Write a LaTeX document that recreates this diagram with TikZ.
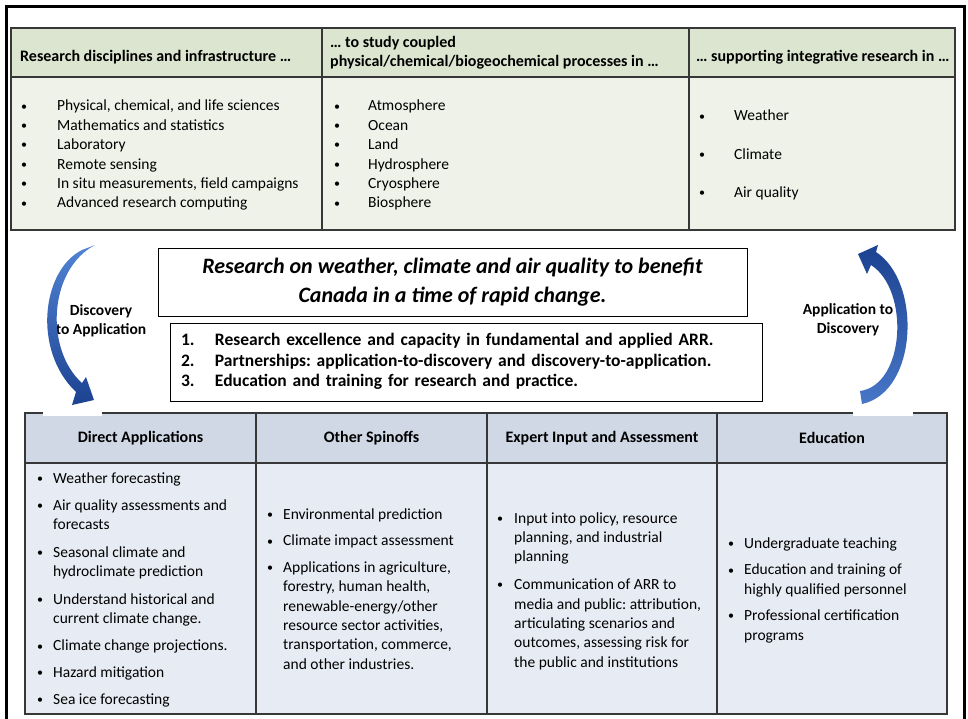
\documentclass[tikz,border=0pt]{standalone}
\usepackage{fontspec}
\setmainfont{Carlito}
\usepackage{array}
\usetikzlibrary{positioning}
\frenchspacing

\definecolor{greenhead}{RGB}{220,229,208}
\definecolor{greenbody}{RGB}{238,242,232}
\definecolor{bluehead}{RGB}{208,216,230}
\definecolor{bluebody}{RGB}{231,235,243}
\definecolor{gridline}{RGB}{55,55,55}
\definecolor{arrowdark}{RGB}{28,66,145}
\definecolor{arrowlight}{RGB}{82,132,212}

% small bullet in a box of width \bulwd
\newlength\bulwd
\newcommand{\bul}{\makebox[\bulwd][l]{\raisebox{0.8pt}{\fontsize{12}{12}\selectfont\textbullet}}}

\tikzstyle{cell} = [rectangle, 
draw=gridline, 
line width=1.6pt, 
outer sep=0pt, inner sep=0pt, 
anchor=north west]
\tikzstyle{tophead} = [cell, fill=greenhead, minimum height=49pt]
\tikzstyle{topbody} = [cell, fill=greenbody, minimum height=153pt]
\tikzstyle{bothead} = [cell, fill=bluehead, minimum height=50pt,
font=\bfseries\fontsize{16}{19}\selectfont]
\tikzstyle{botbody} = [cell, fill=bluebody, minimum height=251pt]
\tikzstyle{headtext} = [inner sep=0pt, anchor=west, align=left,
font=\bfseries\fontsize{16}{19}\selectfont]
\tikzstyle{bullets} = [inner sep=0pt, anchor=base west,
font=\fontsize{15.5}{19.4}\selectfont]
\tikzstyle{goalbox} = [rectangle, draw=black, line width=0.8pt,
minimum width=589pt, minimum height=68pt, 
align=center,
font=\bfseries\itshape\fontsize{22}{29}\selectfont]
\tikzstyle{aimbox} = [rectangle, draw=black, line width=0.8pt,
text width=570pt, inner xsep=11pt, minimum height=78pt,
align=left,
font=\bfseries\fontsize{17.5}{20.5}\selectfont]
\tikzstyle{arrowlabel} = [align=center, font=\bfseries\fontsize{15.5}{18.5}\selectfont]
\tikzstyle{bluearrow} = [draw=none, top color=arrowlight, bottom color=arrowdark]

\begin{document}
\begin{tikzpicture}[x=1pt, y=-1pt]
\useasboundingbox (0,0) rectangle (968,719);

% outer frame, open at the bottom
\draw[line width=3pt] (6.5,725) |- (964,6.5) -- (964,725);

% top table
\node (hA) [tophead, minimum width=311pt] at (11,28) {};
\node (hB) [tophead, minimum width=367pt, right=0pt of hA] {};
\node (hC) [tophead, minimum width=266pt, right=0pt of hB] {};
\node (bA) [topbody, minimum width=311pt, below=0pt of hA] {};
\node (bB) [topbody, minimum width=367pt, below=0pt of hB] {};
\node (bC) [topbody, minimum width=266pt, below=0pt of hC] {};

\node (hAt) [headtext] at (20,57) {Research disciplines and infrastructure …};
\node (hBt) [headtext] at (330,53) {… to study coupled\\physical/chemical/biogeochemical processes in …};
\node (hCt) [headtext] at (696,57) {… supporting integrative research in …};

\node (sciences) [bullets] at (21,111) {\setlength\bulwd{36pt}\begin{tabular}[t]{@{}l@{}l@{}}
\bul & Physical, chemical, and life sciences\\
\bul & Mathematics and statistics\\
\bul & Laboratory\\
\bul & Remote sensing\\
\bul & In situ measurements, field campaigns\\
\bul & Advanced research computing
\end{tabular}};
\node (spheres) [bullets] at (334,111) {\setlength\bulwd{34pt}\begin{tabular}[t]{@{}l@{}l@{}}
\bul & Atmosphere\\
\bul & Ocean\\
\bul & Land\\
\bul & Hydrosphere\\
\bul & Cryosphere\\
\bul & Biosphere
\end{tabular}};
\node (themes) [bullets] at (699,121) {\setlength\bulwd{35pt}\begin{tabular}[t]{@{}l@{}l@{}}
\bul & Weather\\[19pt]
\bul & Climate\\[19pt]
\bul & Air quality
\end{tabular}};

% middle: goal, aims and the two loops
\node (goal) [goalbox] at (452.5,282) {Research on weather, climate and air quality to benefit\\Canada in a time of rapid change.};
\node (aims) [aimbox] at (466,362) {\begin{tabular}{@{}p{34pt}@{}l@{}}
1. & Research excellence and capacity in fundamental and applied ARR.\\
2. & Partnerships: application-to-discovery and discovery-to-application.\\
3. & Education and training for research and practice.
\end{tabular}};
\node (d2a) [arrowlabel] at (101,321) {Discovery\\to Application};
\node (a2d) [arrowlabel] at (848,320) {Application to\\Discovery};

% bottom table
\node (hD) [bothead, minimum width=231pt] at (25,413) {Direct Applications};
\node (hE) [bothead, minimum width=231pt, right=0pt of hD] {Other Spinoffs};
\node (hF) [bothead, minimum width=230pt, right=0pt of hE] {Expert Input and Assessment};
\node (hG) [bothead, minimum width=230pt, right=0pt of hF] {Education};
\node (bD) [botbody, minimum width=231pt, below=0pt of hD] {};
\node (bE) [botbody, minimum width=231pt, below=0pt of hE] {};
\node (bF) [botbody, minimum width=230pt, below=0pt of hF] {};
\node (bG) [botbody, minimum width=230pt, below=0pt of hG] {};

\node (direct) [bullets] at (37,483) {\setlength\bulwd{16pt}\begin{tabular}[t]{@{}l@{}l@{}}
\bul & Weather forecasting\\[8pt]
\bul & Air quality assessments and\\ & forecasts\\[8pt]
\bul & Seasonal climate and\\ & hydroclimate prediction\\[8pt]
\bul & Understand historical and\\ & current climate change.\\[8pt]
\bul & Climate change projections.\\[7pt]
\bul & Hazard mitigation\\[8pt]
\bul & Sea ice forecasting
\end{tabular}};
\node (spinoffs) [bullets] at (267,519) {\setlength\bulwd{16pt}\begin{tabular}[t]{@{}l@{}l@{}}
\bul & Environmental prediction\\[7.5pt]
\bul & Climate impact assessment\\[7pt]
\bul & Applications in agriculture,\\ & forestry, human health,\\ & renewable-energy/other\\ & resource sector activities,\\ & transportation, commerce,\\ & and other industries.
\end{tabular}};
\node (expert) [bullets] at (497,523) {\setlength\bulwd{17pt}\begin{tabular}[t]{@{}l@{}l@{}}
\bul & Input into policy, resource\\ & planning, and industrial\\ & planning\\[8.5pt]
\bul & Communication of ARR to\\ & media and public: attribution,\\ & articulating scenarios and\\ & outcomes, assessing risk for\\ & the public and institutions
\end{tabular}};
\node (teaching) [bullets] at (728,548) {\setlength\bulwd{16pt}\begin{tabular}[t]{@{}l@{}l@{}}
\bul & Undergraduate teaching\\[7.5pt]
\bul & Education and training of\\ & highly qualified personnel\\[7pt]
\bul & Professional certification\\ & programs
\end{tabular}};

% loops drawn over the table edge
\fill[white] (43,400) rectangle (102,415.5);
\fill[white] (853,400) rectangle (913,415.5);
\shade[bluearrow] (82,250) .. controls (42,270) and (32,350) .. (76,392)
  -- (72,405) -- (94,400) -- (86,377) -- (82,383)
  .. controls (45,350) and (48,270) .. (95,245) -- cycle;
\shade[bluearrow, top color=arrowdark, bottom color=arrowlight!80!arrowdark]
  (862,404) .. controls (918,392) and (922,282) .. (876,252)
  -- (878,245) -- (858,254) -- (867,274) -- (871,265)
  .. controls (910,290) and (905,385) .. (860,391) -- cycle;
\end{tikzpicture}
\end{document}
